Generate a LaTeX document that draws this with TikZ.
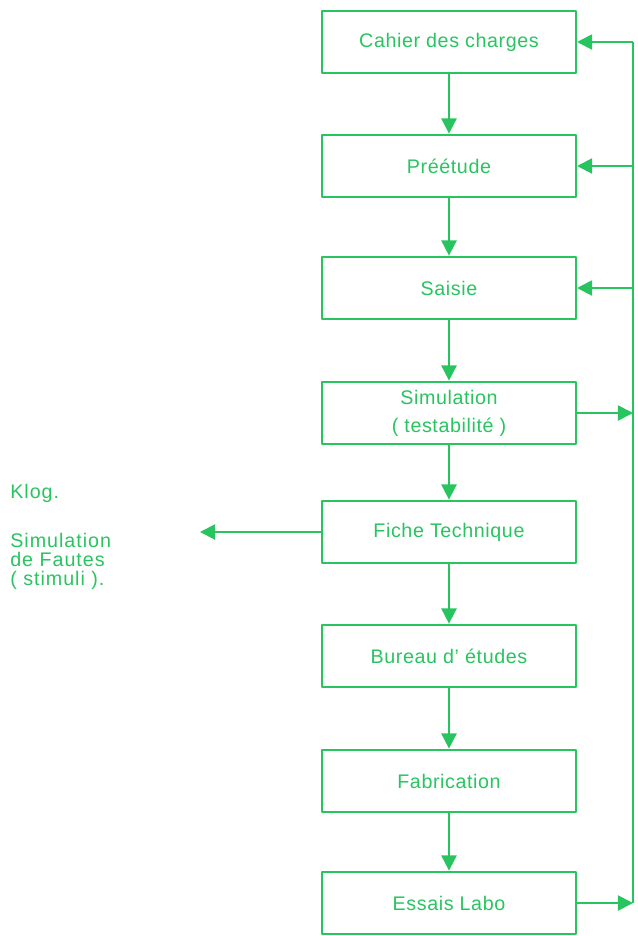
\documentclass[tikz,border=0pt]{standalone}
\usepackage{fontspec}
\setmainfont{Liberation Sans}
\usetikzlibrary{arrows.meta}
\definecolor{vert}{RGB}{40,196,96}
\tikzset{
  etape/.style={draw=vert, line width=1.4pt, minimum width=6.35cm, minimum height=1.57cm,
    text=vert, align=center, font=\fontsize{14}{15}\selectfont\addfontfeatures{LetterSpace=3}},
  fleche/.style={->, draw=vert, line width=1.4pt},
  note/.style={text=vert, align=left, inner sep=0pt, font=\fontsize{14}{13.5}\selectfont\addfontfeatures{LetterSpace=5}}
}
\begin{document}
\begin{tikzpicture}[x=0.025cm, y=-0.025cm, >={Triangle[length=3.8mm,width=3.8mm]}, line join=round]
\useasboundingbox (0,0) rectangle (638,936);
% les etapes
\node[etape] (cahier) at (449,42) {Cahier des charges};
\node[etape] (preetude) at (449,166) {Préétude};
\node[etape] (saisie) at (449,288) {Saisie};
\node[etape] (simul) at (449,413) {Simulation\\[5pt]( testabilité )};
\node[etape] (fiche) at (449,532) {Fiche Technique};
\node[etape] (bureau) at (449,656) {Bureau d' études};
\node[etape] (fabri) at (449,781) {Fabrication};
\node[etape] (essais) at (449,903) {Essais Labo};
% texte a gauche
\node[note, anchor=west] (klog) at (10,493) {Klog.};
\node[note, anchor=north west] (fautes) at (10,533) {Simulation\\de Fautes\\( stimuli ).};
\coordinate (sortie) at (200,535);
% enchainement
\draw[fleche] (cahier) -- (preetude);
\draw[fleche] (preetude) -- (saisie);
\draw[fleche] (saisie) -- (simul);
\draw[fleche] (simul) -- (fiche);
\draw[fleche] (fiche) -- (bureau);
\draw[fleche] (bureau) -- (fabri);
\draw[fleche] (fabri) -- (essais);
\draw[fleche] (fiche.west) -- (fiche.west -| sortie);
% retour
\coordinate (haut) at (633,42);
\coordinate (bas) at (633,903);
\draw[vert, line width=1.4pt] (haut) -- (bas);
\draw[fleche] (haut) -- (cahier.east);
\draw[fleche] (preetude.east -| haut) -- (preetude.east);
\draw[fleche] (saisie.east -| haut) -- (saisie.east);
\draw[fleche] (simul.east) -- (simul.east -| haut);
\draw[fleche] (essais.east) -- (essais.east -| haut);
\end{tikzpicture}
\end{document}
